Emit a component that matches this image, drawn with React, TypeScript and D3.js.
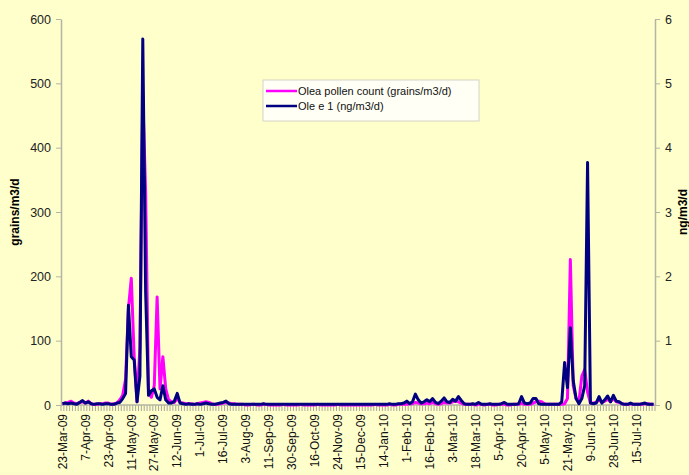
import React from 'react'
import * as d3 from 'd3'
import { useEffect, useRef } from 'react'

// sample dates shown on the axis (every 8th sample)
const tickLabels = [
  '23-Mar-09', '7-Apr-09', '23-Apr-09', '11-May-09', '27-May-09', '12-Jun-09',
  '1-Jul-09', '16-Jul-09', '3-Aug-09', '11-Sep-09', '30-Sep-09', '16-Oct-09',
  '24-Nov-09', '15-Dec-09', '14-Jan-10', '1-Feb-10', '16-Feb-10', '3-Mar-10',
  '18-Mar-10', '5-Apr-10', '20-Apr-10', '5-May-10', '21-May-10', '9-Jun-10',
  '28-Jun-10', '15-Jul-10',
]
const labelEvery = 8

// Olea pollen count (grains/m3/d), left axis
const olea = [
  2, 3, 4, 6, 3, 2, 4, 5, 3, 6,
  2, 1, 1, 2, 2, 3, 3, 1, 2, 3,
  8, 15, 40, 150, 197, 75, 5, 90, 480, 330,
  20, 12, 30, 168, 25, 75, 25, 8, 5, 4,
  10, 4, 3, 2, 2, 2, 1, 2, 3, 4,
  5, 4, 2, 1, 1, 2, 3, 4, 3, 2,
  2, 1, 1, 1, 0, 0, 1, 1, 0, 0,
  1, 1, 0, 0, 0, 0, 0, 1, 0, 0,
  0, 0, 0, 1, 0, 0, 0, 0, 0, 1,
  0, 0, 0, 0, 0, 0, 1, 0, 0, 0,
  0, 0, 0, 0, 0, 0, 0, 0, 0, 1,
  0, 0, 0, 0, 1, 0, 0, 1, 1, 1,
  1, 2, 2, 4, 3, 2, 2, 3, 2, 4,
  2, 1, 2, 4, 3, 3, 5, 6, 5, 3,
  1, 1, 1, 1, 0, 1, 1, 0, 1, 1,
  0, 0, 1, 1, 1, 0, 0, 1, 1, 1,
  3, 1, 1, 1, 3, 5, 6, 5, 2, 1,
  1, 1, 1, 1, 1, 2, 10, 226, 30, 10,
  5, 45, 55, 20, 3, 3, 4, 8, 4, 6,
  9, 5, 10, 5, 4, 2, 1, 1, 2, 1,
  1, 1, 1, 2, 2, 1, 1,
]

// Ole e 1 (ng/m3/d), right axis
const oleE1 = [
  0.02, 0.03, 0.02, 0.03, 0.02, 0.01, 0.04, 0.07, 0.03, 0.05,
  0.02, 0.01, 0.02, 0.02, 0.01, 0.02, 0.02, 0.01, 0.01, 0.03,
  0.04, 0.1, 0.18, 1.55, 0.75, 0.7, 0.05, 0.45, 5.69, 1.75,
  0.15, 0.22, 0.25, 0.12, 0.08, 0.3, 0.08, 0.03, 0.03, 0.06,
  0.18, 0.03, 0.02, 0.01, 0.02, 0.01, 0.01, 0.02, 0.01, 0.02,
  0.03, 0.02, 0.01, 0.01, 0.02, 0.03, 0.04, 0.06, 0.02, 0.01,
  0.01, 0.01, 0.01, 0.01, 0.01, 0.01, 0.01, 0.01, 0.01, 0.01,
  0.02, 0.01, 0.01, 0.01, 0.01, 0.01, 0.01, 0.01, 0.01, 0.01,
  0.01, 0.01, 0.01, 0.01, 0.01, 0.01, 0.01, 0.01, 0.01, 0.01,
  0.01, 0.01, 0.01, 0.01, 0.01, 0.01, 0.01, 0.01, 0.01, 0.01,
  0.01, 0.01, 0.01, 0.01, 0.01, 0.01, 0.01, 0.01, 0.01, 0.01,
  0.01, 0.01, 0.01, 0.01, 0.02, 0.01, 0.01, 0.02, 0.02, 0.03,
  0.06, 0.02, 0.05, 0.17, 0.08, 0.03, 0.05, 0.08, 0.05, 0.1,
  0.04, 0.02, 0.06, 0.11, 0.05, 0.04, 0.09, 0.06, 0.13, 0.07,
  0.02, 0.01, 0.01, 0.02, 0.01, 0.04, 0.01, 0.01, 0.01, 0.02,
  0.01, 0.01, 0.01, 0.02, 0.04, 0.01, 0.01, 0.01, 0.01, 0.02,
  0.13, 0.03, 0.02, 0.03, 0.1, 0.1, 0.02, 0.01, 0.01, 0.01,
  0.01, 0.01, 0.01, 0.01, 0.05, 0.66, 0.27, 1.2, 0.38, 0.1,
  0.02, 0.1, 0.3, 3.77, 0.03, 0.02, 0.03, 0.13, 0.03, 0.08,
  0.14, 0.05, 0.15, 0.06, 0.05, 0.02, 0.01, 0.01, 0.03, 0.01,
  0.01, 0.01, 0.02, 0.03, 0.01, 0.01, 0.01,
]

const seriesNames = ['Olea pollen count (grains/m3/d)', 'Ole e 1 (ng/m3/d)']
const colors = ['#ff00ff', '#000080']

const width = 689
const height = 475
const marginLeft = 61
const marginRight = 34
const marginTop = 19
const marginBottom = 70
const font = 'Liberation Sans, Arial, sans-serif'

export default function App() {
  const gl = useRef<SVGGElement>(null)
  const gr = useRef<SVGGElement>(null)

  const idx = d3.range(olea.length)
  const x = d3.scaleBand<number>().domain(idx).range([marginLeft, width - marginRight]).padding(0)
  const cx = (i: number) => (x(i) as number) + x.bandwidth() / 2
  const yL = d3.scaleLinear([0, 600], [height - marginBottom, marginTop])
  const yR = d3.scaleLinear([0, 6], [height - marginBottom, marginTop])

  const lineL = d3.line<number>().x((d, i) => cx(i)).y(d => yL(d))
  const lineR = d3.line<number>().x((d, i) => cx(i)).y(d => yR(d))

  useEffect(() => {
    const g = d3.select(gl.current)
    g.call(d3.axisLeft(yL).ticks(6).tickSize(5).tickSizeOuter(0).tickPadding(5))
    g.select('.domain').attr('stroke', '#b4b4a4').attr('stroke-width', 1.5)
    g.selectAll('.tick line').attr('stroke', '#b4b4a4')
    g.selectAll('.tick text').attr('font-size', 12.5).attr('font-family', font).attr('fill', '#222')
  }, [yL])

  useEffect(() => {
    const g = d3.select(gr.current)
    g.call(d3.axisRight(yR).ticks(6).tickSize(5).tickSizeOuter(0).tickPadding(5))
    g.select('.domain').attr('stroke', '#b4b4a4').attr('stroke-width', 1.5)
    g.selectAll('.tick line').attr('stroke', '#b4b4a4')
    g.selectAll('.tick text').attr('font-size', 12.5).attr('font-family', font).attr('fill', '#222')
  }, [yR])

  const y0 = height - marginBottom
  const midY = (marginTop + y0) / 2

  return (
    <svg width={width} height={height} style={{ position: 'absolute', left: 0, top: 0, display: 'block' }}>
      <rect width={width} height={height} fill="#ffffcc" />

      {/* category tick marks */}
      <g stroke="#a8a898" strokeWidth="1">
        {d3.range(olea.length + 1).map(i => {
          const px = marginLeft + i * x.step()
          return <line key={i} x1={px} x2={px} y1={y0} y2={y0 + 6} />
        })}
      </g>
      <line x1={marginLeft} x2={width - marginRight} y1={y0} y2={y0} stroke="#b4b4a4" strokeWidth="1.5" />

      {/* category labels */}
      <g fontFamily={font} fontSize="12" fill="#111">
        {tickLabels.map((t, k) => (
          <text key={t} transform={`translate(${cx(k * labelEvery)},${y0 + 9}) rotate(-90)`} textAnchor="end" dy="0.35em">{t}</text>
        ))}
      </g>

      <g ref={gl} transform={`translate(${marginLeft},0)`} />
      <g ref={gr} transform={`translate(${width - marginRight},0)`} />

      <path d={lineL(olea) as string} fill="none" stroke={colors[0]} strokeWidth="3" strokeLinejoin="round" />
      <path d={lineR(oleE1) as string} fill="none" stroke={colors[1]} strokeWidth="3" strokeLinejoin="round" />

      <text transform={`translate(15,${midY}) rotate(-90)`} textAnchor="middle" dy="0.35em" fontFamily={font} fontSize="12" fontWeight="bold">grains/m3/d</text>
      <text transform={`translate(683,${midY}) rotate(-90)`} textAnchor="middle" dy="0.35em" fontFamily={font} fontSize="12" fontWeight="bold">ng/m3/d</text>

      {/* legend */}
      <g fontFamily={font} fontSize="11" fill="#111">
        <rect x={263} y={80} width={216} height={41} fill="#fffff6" stroke="#d4d4c8" />
        {seriesNames.map((n, i) => (
          <g key={n} transform={`translate(266,${91 + i * 15})`}>
            <line x1={0} x2={31} y1={0} y2={0} stroke={colors[i]} strokeWidth="2.5" />
            <text x={32} dy="0.35em">{n}</text>
          </g>
        ))}
      </g>
    </svg>
  )
}
